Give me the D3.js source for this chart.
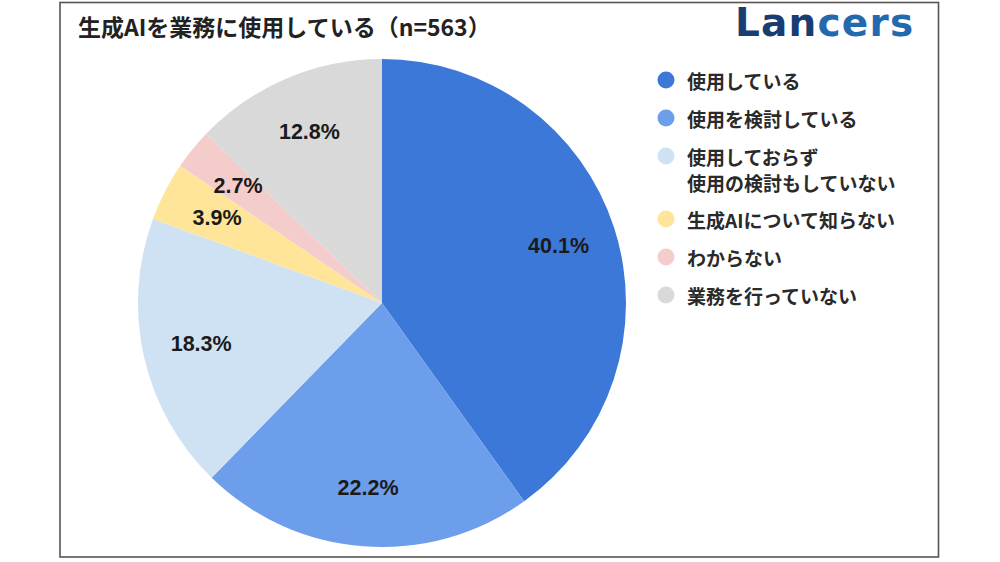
<!DOCTYPE html>
<html><head><meta charset="utf-8">
<script src="https://cdn.jsdelivr.net/npm/d3@7"></script>
<style>
html,body{margin:0;padding:0;background:#fff;}
svg{display:block;}
</style></head>
<body>
<svg id="chart" width="1000" height="562"></svg>
<script>
const categories = ["使用している","使用を検討している","使用しておらず\n使用の検討もしていない","生成AIについて知らない","わからない","業務を行っていない"];
const values = [40.1, 22.2, 18.3, 3.9, 2.7, 12.8];
const colors = ["#3c78d8","#6d9eeb","#cfe2f3","#ffe599","#f4cccc","#d9d9d9"];
const title = "生成AIを業務に使用している（n=563）";

const svg = d3.select("#chart");
const JP = "'Noto Sans CJK JP','Noto Sans',sans-serif";

// frame
svg.append("rect").attr("x",60).attr("y",2.5).attr("width",878.5).attr("height",554.5)
  .attr("fill","#fff").attr("stroke","#555").attr("stroke-width",1.6);

// title
svg.append("text").attr("x",78).attr("y",26).attr("dominant-baseline","central")
  .attr("font-family",JP).attr("font-weight",700)
  .attr("font-size",23).attr("fill","#222").text(title);

// logo
const logo = svg.append("text").attr("x",735).attr("y",36)
  .attr("font-family","'DejaVu Sans', sans-serif").attr("font-weight",700).attr("font-size",39)
  .attr("letter-spacing",1.2);
logo.append("tspan").attr("fill","#173d72").text("Lan");
logo.append("tspan").attr("fill","#2468ad").text("cers");

// pie
const cx = 382, cy = 303, r = 244;
const pie = d3.pie().sort(null).value(d => d)(values);
const arc = d3.arc().innerRadius(0).outerRadius(r);
const labelArc = d3.arc().innerRadius(r*0.76).outerRadius(r*0.76);
const g = svg.append("g").attr("transform",`translate(${cx},${cy})`);
g.selectAll("path").data(pie).join("path").attr("d",arc).attr("fill",(d,i)=>colors[i]);
g.selectAll("text").data(pie).join("text")
  .attr("transform",d=>`translate(${labelArc.centroid(d)})`)
  .attr("text-anchor","middle").attr("dominant-baseline","central")
  .attr("font-family","'Liberation Sans',Arial,sans-serif").attr("font-weight",700)
  .attr("font-size",21.5).attr("fill","#1a1a1a")
  .text(d=>d.value.toFixed(1)+"%");

// legend
const legendY = [80, 118, 156, 219, 257, 295];
const lg = svg.append("g");
categories.forEach((c,i)=>{
  const y = legendY[i];
  lg.append("circle").attr("cx",666).attr("cy",y).attr("r",8.5).attr("fill",colors[i]);
  const t = lg.append("text").attr("x",687).attr("y",y).attr("dominant-baseline","central")
    .attr("font-family",JP).attr("font-weight",700).attr("font-size",19).attr("fill","#2a2a2a");
  c.split("\n").forEach((line,j)=>{
    t.append("tspan").attr("x",687).attr("dy",j===0?0:"1.38em").text(line);
  });
});
</script>
</body></html>
